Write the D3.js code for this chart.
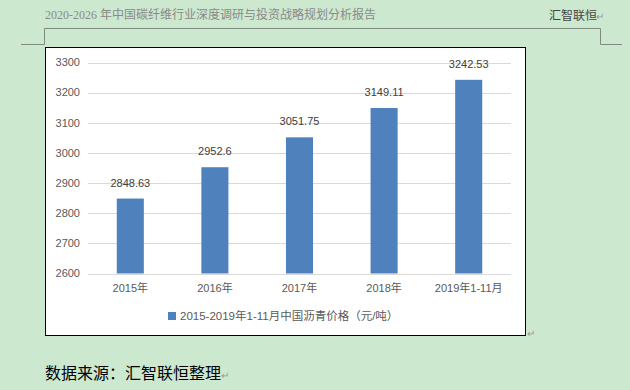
<!DOCTYPE html>
<html lang="zh">
<head>
<meta charset="utf-8">
<title>中国沥青价格</title>
<script src="https://cdn.jsdelivr.net/npm/d3@7"></script>
<style>
  body { margin: 0; background: #cce8cf; }
  svg text { font-family: "Liberation Sans", "Noto Sans CJK SC", sans-serif; }
</style>
</head>
<body>
<script>
// data
var categories = ["2015年", "2016年", "2017年", "2018年", "2019年1-11月"];
var prices = [2848.63, 2952.6, 3051.75, 3149.11, 3242.53];
var valueLabels = ["2848.63", "2952.6", "3051.75", "3149.11", "3242.53"];
var yTicks = [2600, 2700, 2800, 2900, 3000, 3100, 3200, 3300];
var seriesName = "2015-2019年1-11月中国沥青价格（元/吨）";

var w = 630, h = 390;
var svg = d3.select("body").append("svg").attr("width", w).attr("height", h);

// page header
svg.append("text").attr("x", 45).attr("y", 19)
  .attr("font-size", 12).attr("fill", "#8a8a8a")
  .style("font-family", "'Liberation Serif','Noto Sans CJK SC',serif")
  .text("2020-2026 年中国碳纤维行业深度调研与投资战略规划分析报告");
svg.append("text").attr("x", 549).attr("y", 20)
  .attr("font-size", 12).attr("fill", "#444")
  .style("font-family", "'Noto Sans CJK SC',sans-serif")
  .text("汇智联恒");
svg.append("text").attr("x", 596).attr("y", 20)
  .attr("font-size", 10).attr("fill", "#999").text("↵");
svg.append("path")
  .attr("d", "M21,44.5H44.5V28.5H600.5V44.5H622")
  .attr("fill", "none").attr("stroke", "#7f8a80").attr("stroke-width", 1);

// chart box
svg.append("rect").attr("x", 45.5).attr("y", 47.5).attr("width", 480).attr("height", 288)
  .attr("fill", "#fff").attr("stroke", "#000").attr("stroke-width", 1);
svg.append("text").attr("x", 527).attr("y", 337)
  .attr("font-size", 10).attr("fill", "#999").text("↵");

var x = d3.scaleBand().domain(categories).range([88, 511])
  .paddingInner(0.68).paddingOuter(0.34);
var y = d3.scaleLinear().domain([2600, 3300]).range([273.5, 62.5]);

// gridlines
svg.append("g").selectAll("line").data(yTicks).enter().append("line")
  .attr("x1", 88).attr("x2", 511)
  .attr("y1", function(d) { return Math.round(y(d)) + 0.5; })
  .attr("y2", function(d) { return Math.round(y(d)) + 0.5; })
  .attr("stroke", "#d9d9d9");

// y labels
svg.append("g").selectAll("text").data(yTicks).enter().append("text")
  .attr("x", 80).attr("y", function(d) { return y(d); })
  .attr("dy", "0.35em").attr("text-anchor", "end")
  .attr("font-size", 11).attr("fill", "#595959")
  .text(function(d) { return d; });

// bars
svg.append("g").selectAll("rect").data(prices).enter().append("rect")
  .attr("x", function(d, i) { return x(categories[i]); })
  .attr("y", function(d) { return y(d); })
  .attr("width", x.bandwidth())
  .attr("height", function(d) { return y(2600) - y(d); })
  .attr("fill", "#4f81bd");

// value labels
svg.append("g").selectAll("text").data(prices).enter().append("text")
  .attr("x", function(d, i) { return x(categories[i]) + x.bandwidth() / 2; })
  .attr("y", function(d) { return y(d) - 12; })
  .attr("text-anchor", "middle").attr("font-size", 11).attr("fill", "#404040")
  .text(function(d, i) { return valueLabels[i]; });

// x labels
svg.append("g").selectAll("text").data(categories).enter().append("text")
  .attr("x", function(d) { return x(d) + x.bandwidth() / 2; })
  .attr("y", 292).attr("text-anchor", "middle")
  .attr("font-size", 11).attr("fill", "#595959")
  .text(function(d) { return d; });

// legend
svg.append("rect").attr("x", 168).attr("y", 312).attr("width", 8).attr("height", 8)
  .attr("fill", "#4f81bd");
svg.append("text").attr("x", 180).attr("y", 320)
  .attr("font-size", 11.5).attr("fill", "#595959").text(seriesName);

// source
svg.append("text").attr("x", 45).attr("y", 379)
  .attr("font-size", 16).attr("fill", "#000")
  .style("font-family", "'Noto Sans CJK SC',sans-serif")
  .text("数据来源：汇智联恒整理");
svg.append("text").attr("x", 221).attr("y", 379)
  .attr("font-size", 10).attr("fill", "#999").text("↵");
</script>
</body>
</html>
